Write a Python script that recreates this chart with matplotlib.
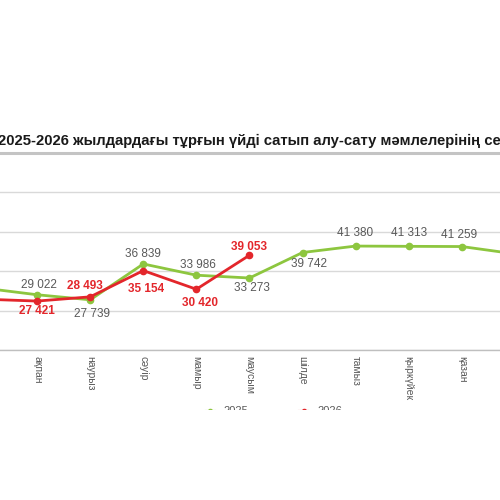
import matplotlib
matplotlib.use("Agg")
import matplotlib.pyplot as plt
from matplotlib.patches import Rectangle
from matplotlib.lines import Line2D

months = ["қаңтар", "ақпан", "наурыз", "сәуір", "мамыр", "маусым",
          "шілде", "тамыз", "қыркүйек", "қазан", "қараша", "желтоқсан"]
values_2025 = [30700, 29022, 27739, 36839, 33986, 33273,
               39742, 41380, 41313, 41259, 39400, 40500]
values_2026 = [27900, 27421, 28493, 35154, 30420, 39053]
labels_2025 = ["", "29 022", "27 739", "36 839", "33 986", "33 273",
               "39 742", "41 380", "41 313", "41 259", "", ""]
labels_2026 = ["", "27 421", "28 493", "35 154", "30 420", "39 053"]
title = "2025-2026 жылдардағы тұрғын үйді сатып алу-сату мәмлелерінің серпіні"

# label offsets in pixels (dx, dy; dy positive = up)
off_2025 = [(0, 0), (2, 10), (2, -14), (0, 10), (2, 10), (2, -10),
            (6, -11), (-1, 13), (0, 13), (-3, 12), (0, 0), (0, 0)]
off_2026 = [(0, 0), (0, -10), (-5, 11), (3, -18), (4, -14), (0, 8)]

GREEN = "#8dc63f"
RED = "#e3262b"
GRAY = "#595959"

fig = plt.figure(figsize=(5, 5), dpi=100)
plt.rcParams["font.family"] = ["Liberation Sans", "DejaVu Sans"]

ax = fig.add_axes([-0.085, 0.30, 1.274, 0.394])
x25 = list(range(len(values_2025)))
x26 = list(range(len(values_2026)))
ax.plot(x25, values_2025, color=GREEN, lw=2.0, marker="o", ms=4.5, zorder=3)
ax.plot(x26, values_2026, color=RED, lw=2.0, marker="o", ms=4.5, zorder=4)

ax.set_xlim(-0.5, 11.5)
ax.set_ylim(15000, 65000)
ax.set_yticks([15000, 25000, 35000, 45000, 55000, 65000])
ax.grid(axis="y", color="#d9d9d9", lw=1.0)
ax.set_axisbelow(True)
for s in ["left", "right"]:
    ax.spines[s].set_visible(False)
ax.spines["top"].set_color("#c4c4c4")
ax.spines["top"].set_linewidth(2.2)
ax.spines["bottom"].set_color("#bfbfbf")
ax.spines["bottom"].set_linewidth(1.0)
ax.tick_params(axis="y", left=False, labelleft=False)
ax.tick_params(axis="x", length=0, pad=4, labelsize=7.5, labelcolor=GRAY)
ax.set_xticks(x25)
ax.set_xticklabels(months, rotation=-90, va="top", ha="center")

k = 72 / 100.0
for i, (v, lab) in enumerate(zip(values_2025, labels_2025)):
    if lab:
        dx, dy = off_2025[i]
        ax.annotate(lab, (i, v), xytext=(dx * k, dy * k), textcoords="offset points",
                    ha="center", va="center", fontsize=8.5, color=GRAY, zorder=5)
for i, (v, lab) in enumerate(zip(values_2026, labels_2026)):
    if lab:
        dx, dy = off_2026[i]
        ax.annotate(lab, (i, v), xytext=(dx * k, dy * k), textcoords="offset points",
                    ha="center", va="center", fontsize=8.5, color=RED,
                    fontweight="bold", zorder=5)

fig.text(-0.004, 0.718, title, ha="left", va="center", fontsize=10.7,
         fontweight="bold", color="#1a1a1a")

handles = [Line2D([], [], color=GREEN, lw=1.5, marker="o", ms=3),
           Line2D([], [], color=RED, lw=1.5, marker="o", ms=3)]
fig.legend(handles, ["2025", "2026"], loc="center", bbox_to_anchor=(0.548, 0.177),
           ncol=2, frameon=False, fontsize=8, handlelength=0.8,
           columnspacing=4.6, labelcolor=GRAY)

fig.add_artist(Rectangle((0, 0), 1, 0.181, transform=fig.transFigure,
                         facecolor="white", edgecolor="none", zorder=10))

fig.savefig("out.png", dpi=100)
